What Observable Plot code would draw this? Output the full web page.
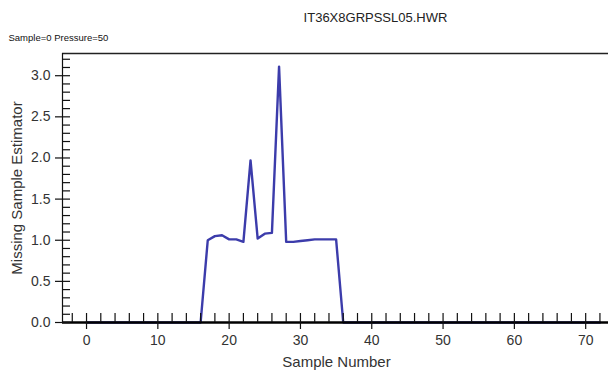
<!DOCTYPE html>
<html>
<head>
<meta charset="utf-8">
<script src="https://cdn.jsdelivr.net/npm/d3@7"></script>
<script src="https://cdn.jsdelivr.net/npm/@observablehq/plot@0.6"></script>
<style>
  html, body { margin: 0; padding: 0; background: #fff; }
  #chart svg { display: block; }
</style>
</head>
<body>
<div id="chart"></div>
<script>
const title = "IT36X8GRPSSL05.HWR";
const subtitle = "Sample=0 Pressure=50";
const xLabel = "Sample Number";
const yLabel = "Missing Sample Estimator";

const sampleNumbers = d3.range(0, 73);
const estimatorValues = [
  0, 0, 0, 0, 0, 0, 0, 0, 0, 0,
  0, 0, 0, 0, 0, 0, 0, 1.00, 1.05, 1.06,
  1.01, 1.01, 0.98, 1.97, 1.02, 1.08, 1.09, 3.11, 0.98, 0.98,
  0.99, 1.00, 1.01, 1.01, 1.01, 1.01, 0, 0, 0, 0,
  0, 0, 0, 0, 0, 0, 0, 0, 0, 0,
  0, 0, 0, 0, 0, 0, 0, 0, 0, 0,
  0, 0, 0, 0, 0, 0, 0, 0, 0, 0,
  0, 0, 0
];

const xMajorTicks = [0, 10, 20, 30, 40, 50, 60, 70];
const xMinorTicks = d3.range(-2, 73, 2).filter(v => v % 10 !== 0);
const yMajorTicks = [0, 0.5, 1.0, 1.5, 2.0, 2.5, 3.0];
const yMinorTicks = d3.range(1, 33).map(v => v / 10).filter(v => Math.round(v * 10) % 5 !== 0);

const xDomain = [-3.37, 73.2];
const yDomain = [0, 3.27];

const W = 608, H = 374, ML = 62, MR = 0, MT = 53, MB = 52;
// pixel-length helpers for tick marks expressed in x data units
const pxPerX = (W - ML - MR) / (xDomain[1] - xDomain[0]);
const px = n => n / pxPerX;

const data = sampleNumbers.map((s, i) => ({sample: s, value: estimatorValues[i]}));

const font = "'Liberation Sans', Arial, sans-serif";

const chart = Plot.plot({
  width: W,
  height: H,
  marginTop: MT,
  marginLeft: ML,
  marginRight: MR,
  marginBottom: MB,
  style: {fontFamily: font, background: "#fff", overflow: "visible"},
  x: {domain: xDomain, axis: null},
  y: {domain: yDomain, axis: null},
  marks: [
    Plot.line(data, {x: "sample", y: "value", stroke: "#3c3cab", strokeWidth: 2.4}),
    // bottom axis line
    Plot.ruleY([0], {x1: xDomain[0], x2: xDomain[1], stroke: "#000", strokeWidth: 2.6}),
    // top frame line
    Plot.ruleY([yDomain[1]], {x1: xDomain[0], x2: xDomain[1], stroke: "#222", strokeWidth: 1.5}),
    // left axis line
    Plot.ruleX([xDomain[0]], {y1: yDomain[0], y2: yDomain[1], stroke: "#111", strokeWidth: 1.2}),
    // x ticks
    Plot.ruleX(xMajorTicks, {x: d => d, y1: 0, y2: 0, insetTop: -9, insetBottom: -7, stroke: "#111", strokeWidth: 1.2}),
    Plot.ruleX(xMinorTicks, {x: d => d, y1: 0, y2: 0, insetTop: -9, insetBottom: 0, stroke: "#111", strokeWidth: 1.2}),
    // y ticks
    Plot.ruleY(yMajorTicks, {y: d => d, x1: xDomain[0] - px(7), x2: xDomain[0] + px(8), stroke: "#111", strokeWidth: 1.2}),
    Plot.ruleY(yMinorTicks, {y: d => d, x1: xDomain[0], x2: xDomain[0] + px(8), stroke: "#111", strokeWidth: 1.2}),
    // tick labels
    Plot.text(xMajorTicks, {x: d => d, y: 0, text: d => String(d), dy: 18, fontSize: 14, fill: "#333", fontFamily: font}),
    Plot.text(yMajorTicks, {x: xDomain[0], y: d => d, text: d => d.toFixed(1), dx: -12, textAnchor: "end", fontSize: 14, fill: "#333", fontFamily: font}),
    // axis labels
    Plot.text([xLabel], {text: d => d, frameAnchor: "bottom", lineAnchor: "middle", dx: 1, dy: 40, fontSize: 15, fill: "#333", fontFamily: font}),
    Plot.text([yLabel], {text: d => d, frameAnchor: "left", textAnchor: "middle", lineAnchor: "middle", dx: -45, rotate: -90, fontSize: 15, fill: "#333", fontFamily: font}),
    // title and subtitle
    Plot.text([title], {text: d => d, frameAnchor: "top", lineAnchor: "middle", dx: 40, dy: -36, fontSize: 13, fill: "#222", fontFamily: font}),
    Plot.text([subtitle], {text: d => d, frameAnchor: "top-left", lineAnchor: "middle", dx: -54, dy: -16, textAnchor: "start", fontSize: 9.5, fill: "#111", fontFamily: font})
  ]
});

document.getElementById("chart").appendChild(chart);
</script>
</body>
</html>
